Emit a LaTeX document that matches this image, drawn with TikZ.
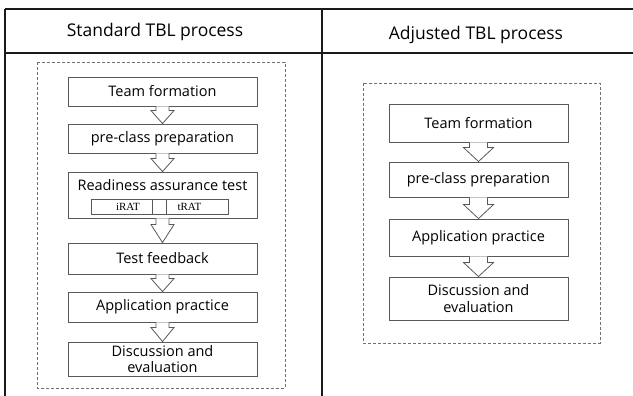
\documentclass[tikz,border=0pt]{standalone}
\usepackage{fontspec}
\setmainfont{Open Sans}
\newfontfamily\ratfont{Liberation Serif}
\usepackage{tikz}
\usetikzlibrary{calc,positioning}
\definecolor{cFrame}{HTML}{1A1A1A}
\definecolor{cBox}{HTML}{595959}
\definecolor{cDash}{HTML}{707070}
\tikzset{
  tableline/.style={line width=1.3pt, draw=cFrame},
  stage/.style={rectangle, draw=cBox, line width=0.9pt, inner sep=0pt, align=center, font=\fontsize{14.5}{16.5}\selectfont},
  head/.style={anchor=base, inner sep=0pt, font=\fontsize{17.5}{20}\selectfont},
  frame/.style={draw=cDash, line width=0.8pt, dash pattern=on 3pt off 2pt},
  blockarrow/.style={draw=cBox, line width=0.8pt, line join=miter, fill=white},
  ratcell/.style={rectangle, draw=cBox, line width=0.7pt, inner sep=0pt, minimum height=15pt},
  rattext/.style={inner sep=0pt, font=\ratfont\fontsize{11}{12}\selectfont},
}
\newcommand{\hollowarrow}[5]{%
  \draw[blockarrow] ($(#1.south)+(-#3/2,0)$) -- ($(#2.north)+(-#3/2,-#5)$) -- ($(#2.north)+(-#4/2,-#5)$)
    -- (#2.north) -- ($(#2.north)+(#4/2,-#5)$) -- ($(#2.north)+(#3/2,-#5)$) -- ($(#1.south)+(#3/2,0)$);}

\begin{document}
\begin{tikzpicture}[x=1pt, y=-1pt]
  \useasboundingbox (0,0) rectangle (633,396);
  \fill[white] (0,0) rectangle (633,396);
  \draw[tableline] (5,9) -- (634,9);
  \draw[tableline] (5,53) -- (634,53);
  \draw[tableline] (5,9) -- (5,397);
  \draw[tableline] (322,9) -- (322,397);
  \node[head] (hstd) at (155,37) {Standard TBL process};
  \node[head] (hadj) at (476,40) {Adjusted TBL process};
  \draw[frame] (37,62) rectangle (285,388);
  \draw[frame] (363,83) rectangle (600,343);
  % standard process
  \node[stage, minimum width=189pt, minimum height=29pt] (lteam) at (162.5,91.5) {Team formation};
  \node[stage, minimum width=189pt, minimum height=29pt] (lprep) at (162.5,138.5) {pre-class preparation};
  \node[stage, minimum width=189pt, minimum height=46pt] (lrat) at (162.5,195) {};
  \node[inner sep=0pt, font=\fontsize{14.5}{16.5}\selectfont] (lratlab) at (162.5,185) {Readiness assurance test};
  \node[ratcell, minimum width=61pt] (irat) at (121.5,206.5) {};
  \node[ratcell, minimum width=14pt] (gap) at (159,206.5) {};
  \node[ratcell, minimum width=62pt] (trat) at (197,206.5) {};
  \node[rattext] (iratlab) at (128,206.5) {iRAT};
  \node[rattext] (tratlab) at (189.5,206.5) {tRAT};
  \node[stage, minimum width=189pt, minimum height=31pt] (lfeed) at (162.5,258.5) {Test feedback};
  \node[stage, minimum width=189pt, minimum height=30pt] (lapp) at (162.5,307) {Application practice};
  \node[stage, minimum width=189pt, minimum height=34pt] (ldisc) at (162.5,359) {Discussion and\\evaluation};
  \foreach \a/\b/\h in {lteam/lprep/13, lprep/lrat/13, lrat/lfeed/18, lfeed/lapp/13, lapp/ldisc/14}
    \hollowarrow{\a}{\b}{13}{23}{\h};
  % adjusted process
  \node[stage, minimum width=179pt, minimum height=38pt] (rteam) at (478.5,123) {Team formation};
  \node[stage, minimum width=179pt, minimum height=35pt] (rprep) at (478.5,179.5) {pre-class preparation};
  \node[stage, minimum width=179pt, minimum height=37pt] (rapp) at (478.5,237.5) {Application practice};
  \node[stage, minimum width=179pt, minimum height=43pt] (rdisc) at (478.5,298.5) {Discussion and\\evaluation};
  \foreach \a/\b in {rteam/rprep, rprep/rapp, rapp/rdisc}
    \hollowarrow{\a}{\b}{18}{30}{14};
\end{tikzpicture}
\end{document}
